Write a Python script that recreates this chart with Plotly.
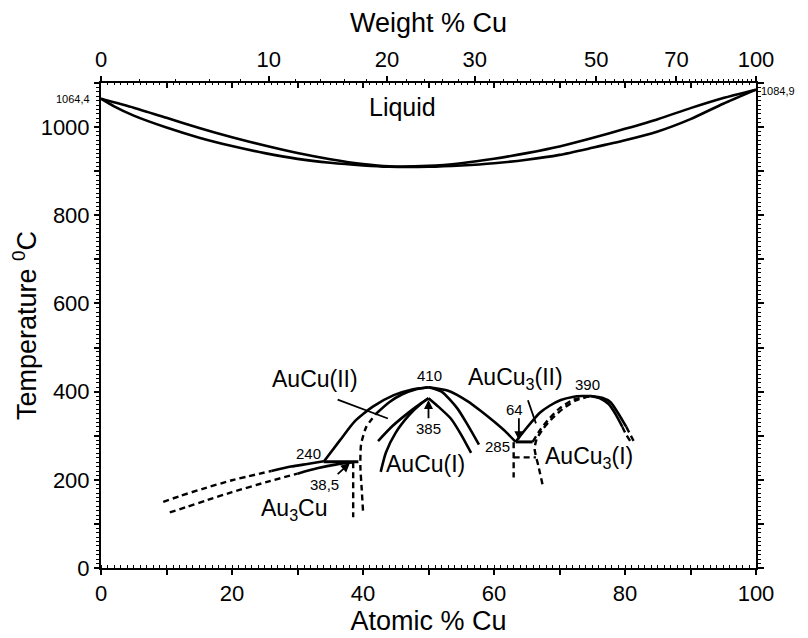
import plotly.graph_objects as go

# ---------------- data (atomic % Cu, temperature °C) ----------------
liq_x = [0, 5, 10, 15, 20, 25, 30, 35, 40, 44, 50, 55, 60, 65, 70, 75, 80, 85, 90, 95, 100]
liq_t = [1064.4, 1044, 1021, 998, 977, 958, 941, 927, 916, 911, 912, 918, 928, 941, 956, 975, 996, 1018, 1043, 1066, 1084.9]
sol_x = [0, 2, 5, 10, 15, 20, 25, 30, 35, 40, 44, 50, 55, 60, 65, 70, 75, 80, 85, 90, 95, 100]
sol_t = [1064.4, 1047, 1026, 999, 976, 957, 941, 928, 919, 913, 910, 910, 913, 918, 926, 937, 953, 970, 990, 1018, 1053, 1084.9]

# Au3Cu boundaries
au3_up_dash_x = [9.5, 12, 15.4, 20, 26]
au3_up_dash_t = [150, 163, 179, 199, 220]
au3_up_sol_x = [26, 29, 31.5, 34]
au3_up_sol_t = [220, 230, 236, 242]
au3_lo_dash_x = [10.5, 13, 16, 20, 25.5, 30]
au3_lo_dash_t = [126, 138, 153, 172, 196, 214]
au3_lo_sol_x = [30, 33, 36, 38.5]
au3_lo_sol_t = [214, 226, 235, 240]
peri_x = [34, 39.3]
peri_t = [241, 241]
v385_x = [38.5, 38.5]
v385_t = [240, 115]

# AuCu(II)
auc2_out_x = [34, 36.5, 38.7, 41.5, 44.7, 47.5, 50]
auc2_out_t = [241, 290, 332, 366, 392, 405, 410]
auc2_in_dash_x = [40.0, 39.8, 39.6, 39.7, 40.5, 42.0]
auc2_in_dash_t = [130, 180, 230, 280, 320, 350]
auc2_in_sol_x = [42.0, 44, 46, 48, 50]
auc2_in_sol_t = [350, 376, 394, 405, 410]
auc2_r_out_x = [50, 53, 56, 58, 60, 62, 63.3]
auc2_r_out_t = [410, 402, 378, 356, 332, 306, 286]
auc2_r_in_x = [50, 52, 54.4, 56, 57.7]
auc2_r_in_t = [410, 400, 362, 324, 280]

# AuCu(I)
auc1_a_x = [42.3, 44.5, 47, 49, 50]
auc1_a_t = [288, 322, 353, 375, 385]
auc1_b_x = [42.7, 43.5, 45, 47, 48.8, 50]
auc1_b_t = [218, 262, 307, 346, 372, 385]
auc1_r_x = [50, 51.5, 53.4, 55, 56.5]
auc1_r_t = [385, 366, 339, 302, 261]

# AuCu3
eut_x = [63.3, 65.9]
eut_t = [286, 286]
auc3_l_x = [63.3, 65, 67, 68.5, 70.2, 72, 73.5, 74.7]
auc3_l_t = [286, 318, 352, 368, 381, 388, 390, 390]
auc3_d1_x = [65.9, 67, 68.5, 70, 72, 74.7]
auc3_d1_t = [286, 312, 340, 362, 381, 390]
auc3_d2_x = [67.4, 66.8, 66.2, 66.5, 67.5, 69, 70.5, 72.5, 74.7]
auc3_d2_t = [190, 230, 270, 292, 316, 341, 361, 380, 390]
auc3_v_x = [63.0, 63.0]
auc3_v_t = [285, 205]
auc3_h_x = [63.0, 66.4]
auc3_h_t = [251, 251]
auc3_ro_sol_x = [74.7, 76.5, 77.8, 79, 80.2]
auc3_ro_sol_t = [390, 386, 376, 350, 320]
auc3_ro_dash_x = [80.2, 80.9, 81.5]
auc3_ro_dash_t = [320, 300, 283]
auc3_ri_sol_x = [74.7, 76.3, 77.5, 78.6, 79.6]
auc3_ri_sol_t = [390, 384, 372, 348, 320]
auc3_ri_dash_x = [79.6, 80.2, 80.8]
auc3_ri_dash_t = [320, 302, 288]

# top axis: weight % Cu
wt_vals = [0, 10, 20, 30, 40, 50, 60, 70, 80, 90, 100]
wt_text = ["0", "10", "20", "30", "", "50", "", "70", "", "", "100"]
M_CU, M_AU = 63.55, 196.97


def wt_to_at(w):
    if w >= 100:
        return 100.0
    a = w / M_CU
    b = (100 - w) / M_AU
    return 100 * a / (a + b)


wt_pos = [wt_to_at(w) for w in wt_vals]
wt_minor = [wt_to_at(w) for w in range(0, 101, 2)]

x_ticks = [0, 10, 20, 30, 40, 50, 60, 70, 80, 90, 100]
x_text = ["0", "", "20", "", "40", "", "60", "", "80", "", "100"]
y_ticks = list(range(0, 1101, 100))
y_text = [str(v) if v % 200 == 0 else "" for v in y_ticks]

# ---------------- figure ----------------
fig = go.Figure()
K = "black"


def solid(x, t, w=2.6, xa="x", ya="y"):
    fig.add_trace(go.Scatter(x=x, y=t, mode="lines", xaxis=xa, yaxis=ya,
                             line=dict(color=K, width=w, shape="spline", smoothing=0.6),
                             hoverinfo="skip", showlegend=False))


def dashed(x, t, w=2.4):
    fig.add_trace(go.Scatter(x=x, y=t, mode="lines",
                             line=dict(color=K, width=w, dash="6px,4px", shape="spline", smoothing=0.6),
                             hoverinfo="skip", showlegend=False))


solid(liq_x, liq_t, xa="x2")
solid(sol_x, sol_t, xa="x3", ya="y2")
dashed(au3_up_dash_x, au3_up_dash_t)
solid(au3_up_sol_x, au3_up_sol_t)
dashed(au3_lo_dash_x, au3_lo_dash_t)
solid(au3_lo_sol_x, au3_lo_sol_t)
solid(peri_x, peri_t, 3)
dashed(v385_x, v385_t)
solid(auc2_out_x, auc2_out_t)
dashed(auc2_in_dash_x, auc2_in_dash_t)
solid(auc2_in_sol_x, auc2_in_sol_t)
solid(auc2_r_out_x, auc2_r_out_t)
solid(auc2_r_in_x, auc2_r_in_t)
solid(auc1_a_x, auc1_a_t)
solid(auc1_b_x, auc1_b_t)
solid(auc1_r_x, auc1_r_t)
solid(eut_x, eut_t, 3)
solid(auc3_l_x, auc3_l_t)
dashed(auc3_d1_x, auc3_d1_t)
dashed(auc3_d2_x, auc3_d2_t)
dashed(auc3_v_x, auc3_v_t)
dashed(auc3_h_x, auc3_h_t)
solid(auc3_ro_sol_x, auc3_ro_sol_t)
dashed(auc3_ro_dash_x, auc3_ro_dash_t)
solid(auc3_ri_sol_x, auc3_ri_sol_t)
dashed(auc3_ri_dash_x, auc3_ri_dash_t)

FONT = "Liberation Sans, Arial, sans-serif"
big = dict(family=FONT, size=23, color=K)
liqf = dict(family=FONT, size=25, color=K)
small = dict(family=FONT, size=15, color=K)
tiny = dict(family=FONT, size=11, color=K)

ann = []


def label(x, y, text, font):
    ann.append(dict(x=x, y=y, xref="x", yref="y", text=text, showarrow=False, font=font))


def arrow(x, y, ax, ay, head=2):
    ann.append(dict(x=x, y=y, ax=ax, ay=ay, xref="x", yref="y", axref="x", ayref="y", text="",
                    showarrow=True, arrowhead=head, arrowsize=1, arrowwidth=1.8, arrowcolor=K))


label(46, 1045, "Liquid", liqf)
label(32.6, 428, "AuCu(II)", big)
label(49.6, 235, "AuCu(I)", big)
label(29.5, 132, "Au<sub>3</sub>Cu", big)
label(63.3, 429, "AuCu<sub>3</sub>(II)", big)
label(74.5, 250, "AuCu<sub>3</sub>(I)", big)
label(50.1, 437, "410", small)
label(50.0, 316, "385", small)
label(31.7, 260, "240", small)
label(34.1, 190, "38,5", small)
label(60.5, 276, "285", small)
label(63.1, 360, "64", small)
label(74.2, 417, "390", small)
arrow(50.0, 381, 50.0, 336)
arrow(38.0, 238, 35.9, 210)
arrow(63.8, 290, 63.8, 343)
arrow(43.8, 339, 35.9, 383, head=0)
arrow(66.4, 328, 65.1, 384, head=0)
ann.append(dict(x=0, y=1064.4, xref="paper", yref="y", text="1064,4", showarrow=False, font=tiny,
                xanchor="right", xshift=-9))
ann.append(dict(x=1, y=1083, xref="paper", yref="y", text="1084,9", showarrow=False, font=tiny,
                xanchor="left", xshift=3))

tickfont = dict(family=FONT, size=22, color=K)
titlefont = dict(family=FONT, size=27, color=K)

fig.update_layout(
    width=808, height=638,
    margin=dict(l=91, r=60, t=68, b=78),
    paper_bgcolor="white", plot_bgcolor="white",
    showlegend=False,
    annotations=ann,
    xaxis=dict(range=[0, 100], tickvals=x_ticks, ticktext=x_text, ticks="outside", ticklen=5, tickwidth=1.5,
               tickcolor=K, showline=True, linecolor=K, linewidth=2, showgrid=False, zeroline=False,
               tickfont=tickfont, title=dict(text="Atomic % Cu", font=titlefont, standoff=4),
               minor=dict(ticks="inside", dtick=1, ticklen=3, tickcolor=K, tickwidth=1, showgrid=False)),
    xaxis2=dict(range=[0, 100], overlaying="x", side="top", tickvals=wt_pos, ticktext=wt_text, ticks="outside",
                ticklen=5, tickwidth=1.5, tickcolor=K, showline=True, linecolor=K, linewidth=2, showgrid=False,
                zeroline=False, tickfont=tickfont, title=dict(text="Weight % Cu", font=titlefont, standoff=8),
                minor=dict(ticks="outside", tickvals=wt_minor, ticklen=2, tickcolor=K, tickwidth=1, showgrid=False)),
    xaxis3=dict(range=[0, 100], overlaying="x", side="top", dtick=10, ticks="inside", ticklen=5, tickwidth=1.5,
                tickcolor=K, showticklabels=False, showline=False, showgrid=False, zeroline=False,
                minor=dict(ticks="inside", dtick=1, ticklen=2, tickcolor=K, tickwidth=1, showgrid=False)),
    yaxis=dict(range=[0, 1100], tickvals=y_ticks, ticktext=y_text, ticks="outside", ticklen=5, tickwidth=1.5,
               tickcolor=K, showline=True, linecolor=K, linewidth=2, showgrid=False, zeroline=False,
               tickfont=tickfont, title=dict(text="Temperature <sup>0</sup>C", font=titlefont, standoff=2),
               minor=dict(ticks="outside", dtick=10, ticklen=3, tickcolor=K, tickwidth=1, showgrid=False)),
    yaxis2=dict(range=[0, 1100], overlaying="y", side="right", tickvals=y_ticks, ticks="outside", ticklen=6,
                tickwidth=1.5, tickcolor=K, showticklabels=False, showline=True, linecolor=K, linewidth=2,
                showgrid=False, zeroline=False,
                minor=dict(ticks="outside", dtick=10, ticklen=3, tickcolor=K, tickwidth=1, showgrid=False)),
)

fig.write_html("out.html")
